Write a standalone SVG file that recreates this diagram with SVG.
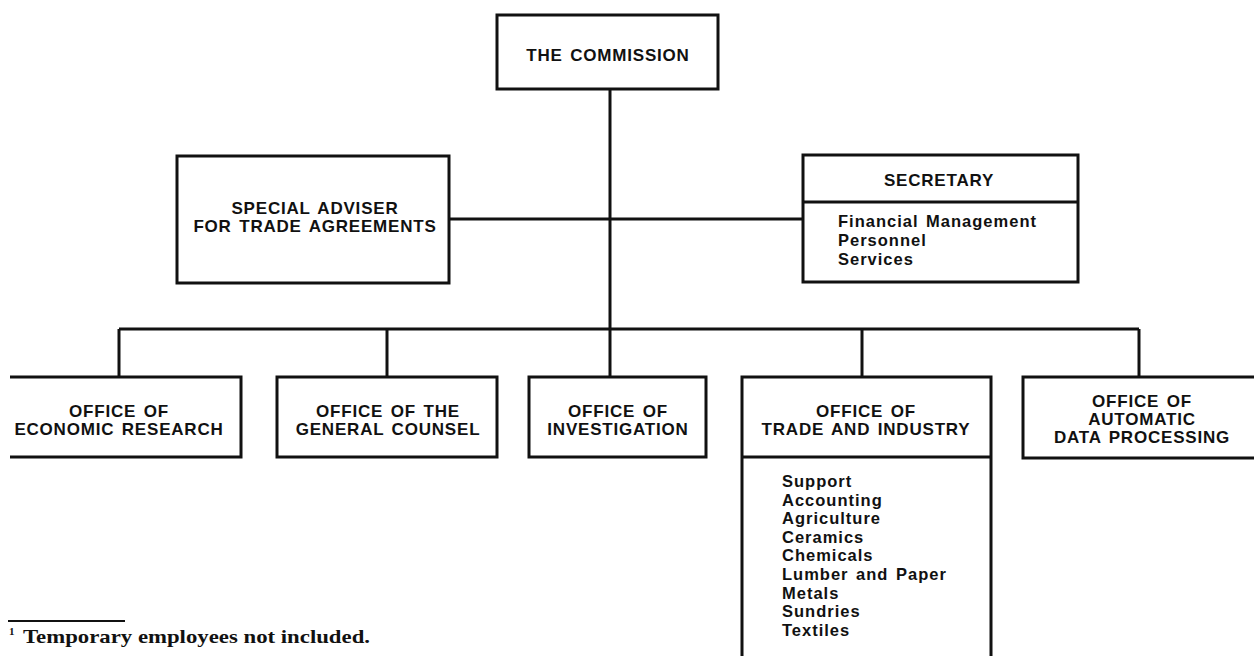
<svg xmlns="http://www.w3.org/2000/svg" width="1254" height="656" viewBox="0 0 1254 656">
<style>
.box{fill:none;stroke:#111;stroke-width:3;stroke-linejoin:miter}
.ln{fill:none;stroke:#111;stroke-width:3}
.t{font-family:"Liberation Sans",Arial,sans-serif;font-weight:bold;font-size:17px;letter-spacing:0.8px;word-spacing:2px;fill:#111;text-anchor:middle}
.i{font-family:"Liberation Sans",Arial,sans-serif;font-weight:bold;font-size:16.5px;letter-spacing:1px;word-spacing:2px;fill:#111}
.f{font-family:"Liberation Serif","Times New Roman",serif;font-weight:bold;font-size:19px;fill:#111}
</style>
<rect width="1254" height="656" fill="#fff"/>
<g id="connectors">
<line class="ln" x1="610" y1="89" x2="610" y2="329"/>
<line class="ln" x1="449" y1="219" x2="803" y2="219"/>
<line class="ln" x1="119" y1="329" x2="1139" y2="329"/>
<line class="ln" x1="119" y1="329" x2="119" y2="377"/>
<line class="ln" x1="387" y1="329" x2="387" y2="377"/>
<line class="ln" x1="610" y1="329" x2="610" y2="377"/>
<line class="ln" x1="862" y1="329" x2="862" y2="377"/>
<line class="ln" x1="1139" y1="329" x2="1139" y2="377"/>
</g>
<g id="commission">
<rect class="box" x="497" y="15" width="221" height="74"/>
<text class="t" x="608" y="61">THE COMMISSION</text>
</g>
<g id="adviser">
<rect class="box" x="177" y="156" width="272" height="127"/>
<text class="t" x="315" y="214">SPECIAL ADVISER</text>
<text class="t" x="315" y="232">FOR TRADE AGREEMENTS</text>
</g>
<g id="secretary">
<rect class="box" x="803" y="155" width="275" height="127"/>
<line class="ln" x1="803" y1="202" x2="1078" y2="202"/>
<text class="t" x="939" y="186">SECRETARY</text>
<text class="i" x="838" y="227">Financial Management</text>
<text class="i" x="838" y="246">Personnel</text>
<text class="i" x="838" y="265">Services</text>
</g>
<g id="economic-research">
<path class="box" d="M10,377 H241 V457 H10"/>
<text class="t" x="119" y="417">OFFICE OF</text>
<text class="t" x="119" y="435">ECONOMIC RESEARCH</text>
</g>
<g id="general-counsel">
<rect class="box" x="277" y="377" width="220" height="80"/>
<text class="t" x="388" y="417">OFFICE OF THE</text>
<text class="t" x="388" y="435">GENERAL COUNSEL</text>
</g>
<g id="investigation">
<rect class="box" x="529" y="377" width="177" height="80"/>
<text class="t" x="618" y="417">OFFICE OF</text>
<text class="t" x="618" y="435">INVESTIGATION</text>
</g>
<g id="trade-industry">
<path class="box" d="M742,660 V377 H991 V660"/>
<line class="ln" x1="742" y1="457" x2="991" y2="457"/>
<text class="t" x="866" y="417">OFFICE OF</text>
<text class="t" x="866" y="435">TRADE AND INDUSTRY</text>
<text class="i" x="782" y="487">Support</text>
<text class="i" x="782" y="505.6">Accounting</text>
<text class="i" x="782" y="524.2">Agriculture</text>
<text class="i" x="782" y="542.8">Ceramics</text>
<text class="i" x="782" y="561.4">Chemicals</text>
<text class="i" x="782" y="580">Lumber and Paper</text>
<text class="i" x="782" y="598.6">Metals</text>
<text class="i" x="782" y="617.2">Sundries</text>
<text class="i" x="782" y="635.8">Textiles</text>
</g>
<g id="automatic-data-processing">
<path class="box" d="M1260,377 H1023 V458 H1260"/>
<text class="t" x="1142" y="407">OFFICE OF</text>
<text class="t" x="1142" y="425">AUTOMATIC</text>
<text class="t" x="1142" y="443">DATA PROCESSING</text>
</g>
<g id="footnote">
<line x1="8" y1="621" x2="125" y2="621" stroke="#111" stroke-width="2"/>
<text class="f" x="9" y="635" style="font-size:11px">1</text>
<text class="f" x="23" y="643" textLength="347" lengthAdjust="spacingAndGlyphs">Temporary employees not included.</text>
</g>
</svg>
